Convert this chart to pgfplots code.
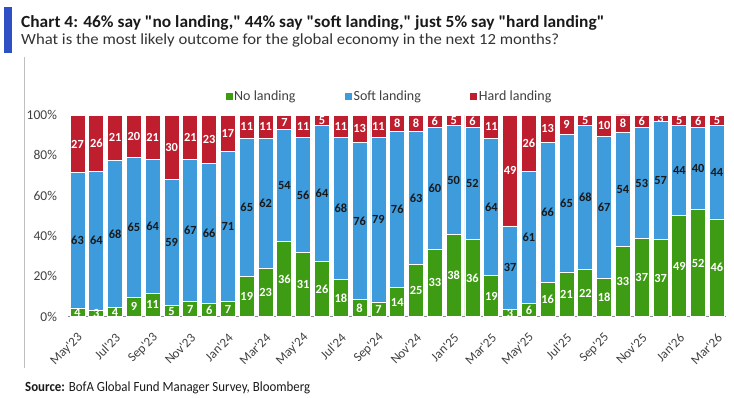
\documentclass[border=0pt]{standalone}
\usepackage{pgfplots}
\pgfplotsset{compat=1.18}
\usepackage{pgfplotstable}
\usepackage{fontspec}
\setmainfont{Carlito}[Ligatures=TeXOff]
\usepackage{graphicx}
\definecolor{cgreen}{HTML}{3D9B14}
\definecolor{cblue}{HTML}{3E9BDC}
\definecolor{cred}{HTML}{BE1E2D}
\definecolor{cbar}{HTML}{2F4FC4}
\definecolor{ctext}{HTML}{404040}
\pgfplotstableread{
i n s h
1 4 63 27
2 3 64 26
3 4 68 21
4 9 65 20
5 11 64 21
6 5 59 30
7 7 67 21
8 6 66 23
9 7 71 17
10 19 65 11
11 23 62 11
12 36 54 7
13 31 56 11
14 26 64 5
15 18 68 11
16 8 76 13
17 7 79 11
18 14 76 8
19 25 63 8
20 33 60 6
21 38 50 5
22 36 52 6
23 19 64 11
24 3 37 49
25 6 61 26
26 16 66 13
27 21 65 9
28 22 68 5
29 18 67 10
30 33 54 8
31 37 53 6
32 37 57 3
33 49 44 5
34 52 40 6
35 46 44 5
}\data
\begin{document}
\begin{tikzpicture}[x=1pt,y=1pt]
\path[use as bounding box] (0,0) rectangle (734,397);
\fill[cbar] (4,344) rectangle (12,390);
\node[anchor=base west, inner sep=0pt, text=black!90] at (21,369) {\resizebox{583pt}{\height}{\fontsize{17}{20}\selectfont\bfseries Chart 4: 46\% say "no landing," 44\% say "soft landing," just 5\% say "hard landing"}};
\node[anchor=base west, inner sep=0pt, text=black!80] at (21,352) {\resizebox{538pt}{\height}{\fontsize{15.5}{18}\selectfont What is the most likely outcome for the global economy in the next 12 months?}};
\draw[black!25, line width=0.8pt] (24.5,340) -- (24.5,29);
\node[anchor=base west, inner sep=0pt, text=black!90] at (25,6) {\resizebox{285pt}{\height}{\fontsize{14}{16}\selectfont\textbf{Source:} BofA Global Fund Manager Survey, Bloomberg}};
\begin{axis}[
  at={(68.1pt,80.5pt)}, anchor=south west,
  scale only axis, width=658.3pt, height=201.5pt,
  xmin=0.5, xmax=35.5, ymin=0, ymax=100,
  ybar stacked, bar width=15pt,
  axis lines*=left,
  y axis line style={draw=none},
  x axis line style={draw=black!45, line width=0.9pt},
  major tick length=0pt,
  clip=false,
  ytick={0,20,40,60,80,100},
  yticklabels={0\%,20\%,40\%,60\%,80\%,100\%},
  yticklabel style={anchor=east, inner sep=0pt, xshift=-11pt, text=ctext, font=\fontsize{13.5}{15}\selectfont},
  xtick={1,3,...,35},
  xticklabels={May'23,Jul'23,Sep'23,Nov'23,Jan'24,Mar'24,May'24,Jul'24,Sep'24,Nov'24,Jan'25,Mar'25,May'25,Jul'25,Sep'25,Nov'25,Jan'26,Mar'26},
  xticklabel style={xshift=3pt, yshift=-19pt, rotate=45, anchor=east, inner sep=0pt, text=ctext, font=\fontsize{13}{15}\selectfont},
  legend columns=3,
  legend image code/.code={\fill[#1, draw=none] (0pt,-3.5pt) rectangle (7pt,3.5pt);},
  legend style={draw=none, fill=none, at={(0.2391,1.0918)}, anchor=west, inner sep=0pt,
    nodes={inner sep=1.5pt, text=ctext, font=\fontsize{14}{16}\selectfont},
    /tikz/every even column/.append style={column sep=48pt}},
]
\addplot[fill=cgreen, draw=white, line width=0.8pt] table[x=i, y expr={100*\thisrow{n}/(\thisrow{n}+\thisrow{s}+\thisrow{h})}] {\data};
\addplot[fill=cblue, draw=white, line width=0.8pt] table[x=i, y expr={100*\thisrow{s}/(\thisrow{n}+\thisrow{s}+\thisrow{h})}] {\data};
\addplot[fill=cred, draw=white, line width=0.8pt] table[x=i, y expr={100*\thisrow{h}/(\thisrow{n}+\thisrow{s}+\thisrow{h})}] {\data};
\legend{No landing, Soft landing, Hard landing}
\end{axis}
\begin{axis}[
  at={(68.1pt,80.5pt)}, anchor=south west,
  scale only axis, width=658.3pt, height=201.5pt,
  xmin=0.5, xmax=35.5, ymin=0, ymax=100,
  hide axis, clip=false,
  nodes near coords, point meta=explicit symbolic,
  every node near coord/.append style={anchor=center, inner sep=0pt, font=\fontsize{12.4}{14}\selectfont\bfseries},
]
\addplot[draw=none, mark=none, every node near coord/.append style={text=white}] table[x=i, y expr={50*\thisrow{n}/(\thisrow{n}+\thisrow{s}+\thisrow{h})}, meta=n] {\data};
\addplot[draw=none, mark=none, every node near coord/.append style={text=black!90}] table[x=i, y expr={100*(\thisrow{n}+0.5*\thisrow{s})/(\thisrow{n}+\thisrow{s}+\thisrow{h})}, meta=s] {\data};
\addplot[draw=none, mark=none, every node near coord/.append style={text=white}] table[x=i, y expr={100*(\thisrow{n}+\thisrow{s}+0.5*\thisrow{h})/(\thisrow{n}+\thisrow{s}+\thisrow{h})}, meta=h] {\data};
\end{axis}
\end{tikzpicture}
\end{document}
